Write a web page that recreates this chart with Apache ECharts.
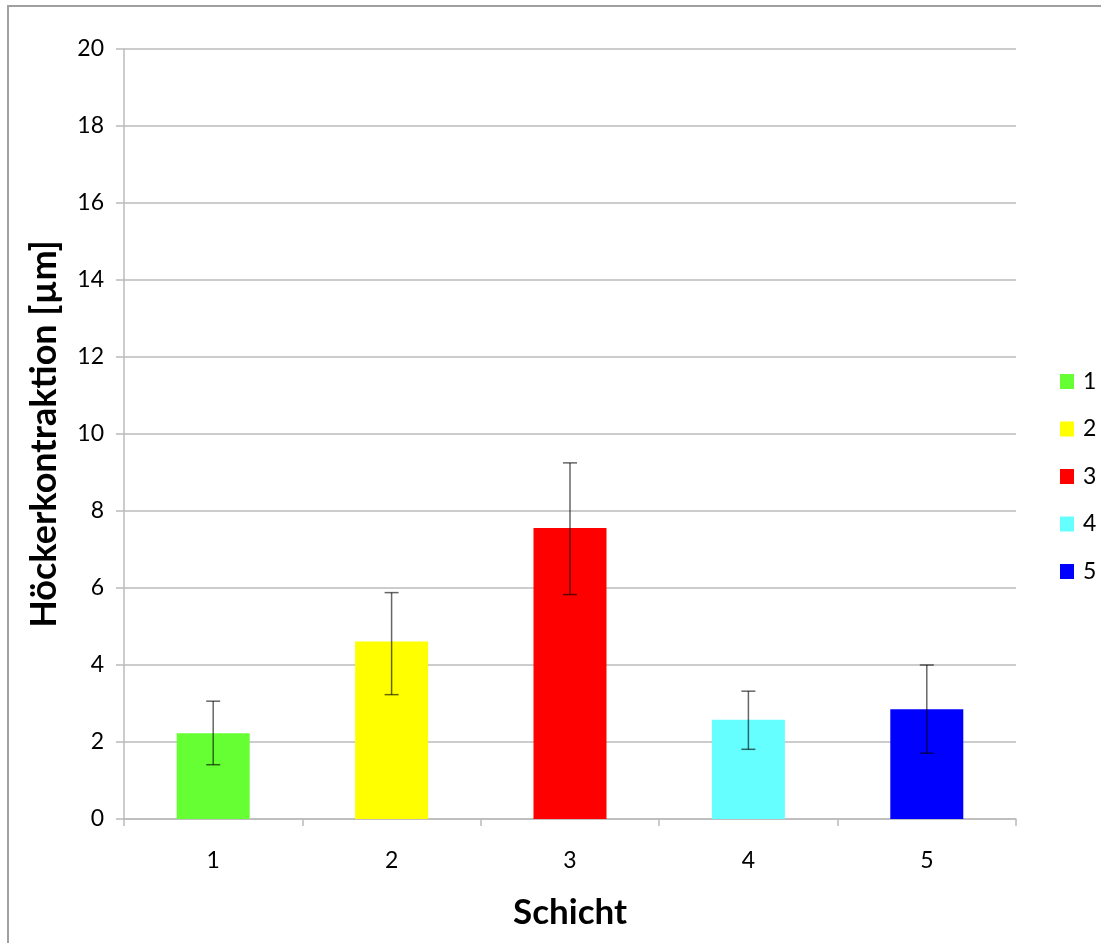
<!DOCTYPE html>
<html>
<head>
<meta charset="utf-8">
<script src="https://cdn.jsdelivr.net/npm/echarts@6/dist/echarts.min.js"></script>
<style>
html,body{margin:0;padding:0;background:#fff;}
#chart{width:1101px;height:943px;}
</style>
</head>
<body>
<div id="chart"></div>
<script>
const categories = ['1', '2', '3', '4', '5'];
const seriesNames = ['1', '2', '3', '4', '5'];
const means = [2.23, 4.61, 7.56, 2.58, 2.85];
const errLow = [1.41, 3.23, 5.83, 1.81, 1.71];
const errHigh = [3.06, 5.88, 9.25, 3.32, 4.00];
const colors = ['#66ff33', '#ffff00', '#ff0000', '#66ffff', '#0000ff'];
const yTicks = { min: 0, max: 20, interval: 2 };

const FONT = 'Lato, "Open Sans", sans-serif';
const chart = echarts.init(document.getElementById('chart'), null, { renderer: 'canvas' });

const barSeries = seriesNames.map((name, i) => ({
  name: name,
  type: 'bar',
  stack: 'all',
  barWidth: 73,
  itemStyle: { color: colors[i] },
  data: categories.map((c, j) => (j === i ? means[j] : '-'))
}));

const errData = categories.map((c, i) => [i, errLow[i], errHigh[i]]);

const errSeries = {
  type: 'custom',
  name: 'err',
  z: 10,
  data: errData,
  renderItem: function (params, api) {
    const x = api.value(0);
    const lo = api.coord([x, api.value(1)]);
    const hi = api.coord([x, api.value(2)]);
    const cap = 7;
    const style = { stroke: 'rgba(0,0,0,0.6)', lineWidth: 1.5 };
    return {
      type: 'group',
      children: [
        { type: 'line', shape: { x1: lo[0], y1: lo[1], x2: hi[0], y2: hi[1] }, style: style },
        { type: 'line', shape: { x1: hi[0] - cap, y1: hi[1], x2: hi[0] + cap, y2: hi[1] }, style: style },
        { type: 'line', shape: { x1: lo[0] - cap, y1: lo[1], x2: lo[0] + cap, y2: lo[1] }, style: style }
      ]
    };
  }
};

chart.setOption({
  backgroundColor: '#ffffff',
  animation: false,
  textStyle: { fontFamily: FONT },
  graphic: [{
    type: 'rect',
    shape: { x: 8, y: 6, width: 1300, height: 1100 },
    style: { fill: 'none', stroke: '#a0a0a0', lineWidth: 2 },
    silent: true
  }],
  grid: { left: 124, right: 85, top: 49, bottom: 124, containLabel: false, outerBoundsMode: 'none' },
  legend: {
    data: seriesNames,
    orient: 'vertical',
    left: 1060,
    top: 370,
    padding: 0,
    itemWidth: 14,
    itemHeight: 15,
    itemGap: 24.5,
    icon: 'rect',
    textStyle: { fontFamily: FONT, fontSize: 23, color: '#000', padding: [0, 0, 0, 4] }
  },
  xAxis: {
    type: 'category',
    data: categories,
    name: 'Schicht',
    nameLocation: 'middle',
    nameGap: 76,
    nameTextStyle: { fontFamily: FONT, fontSize: 35, fontWeight: 'bold', color: '#000' },
    axisLine: { show: true, lineStyle: { color: '#bbbbbb', width: 1.5 } },
    axisTick: { show: true, length: 7, lineStyle: { color: '#bbbbbb', width: 1.5 } },
    axisLabel: { fontFamily: FONT, fontSize: 23, color: '#000', margin: 30 }
  },
  yAxis: {
    type: 'value',
    min: yTicks.min,
    max: yTicks.max,
    interval: yTicks.interval,
    name: 'Höckerkontraktion [µm]',
    nameLocation: 'middle',
    nameGap: 62,
    nameRotate: 90,
    nameTextStyle: { fontFamily: FONT, fontSize: 36, fontWeight: 'bold', color: '#000' },
    axisLine: { show: true, lineStyle: { color: '#bbbbbb', width: 1.5 } },
    axisTick: { show: true, length: 8, lineStyle: { color: '#bbbbbb', width: 1.5 } },
    axisLabel: { fontFamily: FONT, fontSize: 23, color: '#000', margin: 20 },
    splitLine: { show: true, lineStyle: { color: '#bbbbbb', width: 1.5 } }
  },
  series: barSeries.concat([errSeries])
});
</script>
</body>
</html>
